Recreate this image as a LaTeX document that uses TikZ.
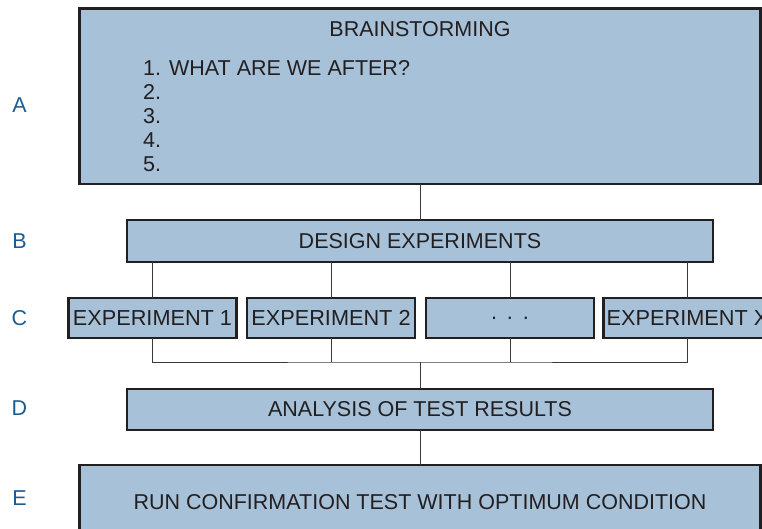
\documentclass[tikz,border=0pt]{standalone}
\usepackage{fontspec}
\setmainfont{Liberation Sans}
\definecolor{boxfill}{HTML}{A6C1D8}
\definecolor{boxline}{HTML}{231F20}
\definecolor{lbl}{HTML}{1D5C90}
\definecolor{conn}{HTML}{3A3A3A}
\begin{document}
\begin{tikzpicture}[x=1pt,y=-1pt,
  box/.style={draw=boxline,line width=2.4pt,fill=boxfill,inner sep=0pt,outer sep=0pt,anchor=north west,
    font=\fontsize{21.5}{24}\selectfont,text=boxline},
  expbox/.style={box,minimum width=168pt,minimum height=40pt,font=\fontsize{21.7}{24}\selectfont},
  txt/.style={inner sep=0pt,font=\fontsize{21.5}{24}\selectfont,text=boxline},
  letter/.style={inner sep=0pt,font=\fontsize{21.5}{24}\selectfont,text=lbl},
  conn/.style={draw=conn,line width=0.9pt}]
\useasboundingbox (0,0) rectangle (762,528);
\clip (0,0) rectangle (762,528);
% boxes
\node[box,minimum width=681pt,minimum height=175.5pt] (A) at (79.5,8.5) {};
\node[txt,anchor=base] (tA) at (420,36.5) {BRAINSTORMING};
\node[txt,anchor=base west] (l1) at (143,75) {1. WHAT ARE WE AFTER?};
\node[txt,anchor=base west] (l2) at (143,99) {2.};
\node[txt,anchor=base west] (l3) at (143,123) {3.};
\node[txt,anchor=base west] (l4) at (143,147) {4.};
\node[txt,anchor=base west] (l5) at (143,171.5) {5.};
\node[box,minimum width=586pt,minimum height=42pt] (B) at (127,220) {DESIGN EXPERIMENTS};
\node[expbox] (e1) at (68.5,298) {EXPERIMENT 1};
\node[expbox] (e2) at (247,298) {EXPERIMENT 2};
\node[expbox] (e3) at (426,298) {.\hspace{0.45em}.\hspace{0.45em}.};
\node[expbox] (e4) at (603.5,298) {EXPERIMENT X};
\node[box,minimum width=586pt,minimum height=41pt] (D) at (127,389) {ANALYSIS OF TEST RESULTS};
\node[box,minimum width=681pt,minimum height=75pt] (E) at (79.5,465) {RUN CONFIRMATION TEST WITH OPTIMUM CONDITION};
% row letters
\node[letter] (LA) at (19.5,105) {A};
\node[letter] (LB) at (19.5,241) {B};
\node[letter] (LC) at (19.5,318) {C};
\node[letter] (LD) at (19.5,408) {D};
\node[letter] (LE) at (19.5,498) {E};
% connectors
\coordinate (bus) at (420,362);
\draw[conn] (A.south) -- (B.north);
\draw[conn] (B.south -| e1) -- (e1.north);
\draw[conn] (B.south -| e2) -- (e2.north);
\draw[conn] (B.south -| e3) -- (e3.north);
\draw[conn] (B.south -| e4) -- (e4.north);
\draw[conn] (e1.south) |- (bus) -| (e4.south);
\draw[conn] (e2.south) -- (e2.south |- bus);
\draw[conn] (e3.south) -- (e3.south |- bus);
\draw[conn] (bus) -- (D.north);
\draw[conn] (D.south) -- (E.north);
\end{tikzpicture}
\end{document}
